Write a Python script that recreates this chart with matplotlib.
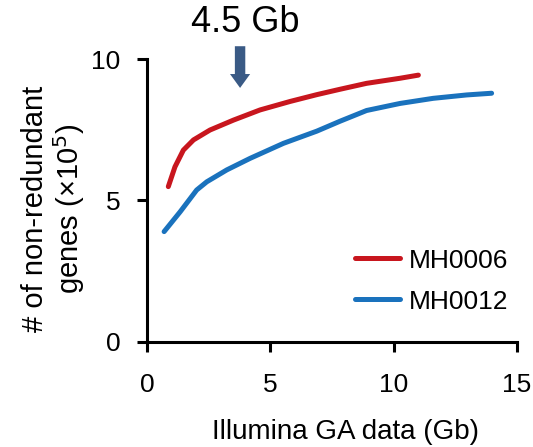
import matplotlib
matplotlib.use("Agg")
import matplotlib.pyplot as plt

# saturation curves: non-redundant genes vs sequencing amount
mh0006_x = [0.86, 1.13, 1.47, 1.88, 2.55, 3.5, 4.58, 5.8, 6.88, 7.82, 8.9, 10.26, 11.0]
mh0006_y = [5.49, 6.19, 6.78, 7.14, 7.49, 7.84, 8.2, 8.5, 8.74, 8.93, 9.14, 9.32, 9.43]
mh0012_x = [0.69, 1.34, 2.01, 2.42, 3.23, 4.18, 5.53, 6.88, 7.82, 8.9, 10.26, 11.6, 12.96, 13.97]
mh0012_y = [3.9, 4.6, 5.37, 5.66, 6.08, 6.49, 7.02, 7.45, 7.8, 8.18, 8.43, 8.61, 8.73, 8.79]
arrow_x = 3.77
label_txt = "4.5 Gb"

plt.rcParams['font.family'] = ['Liberation Sans', 'DejaVu Sans']

fig = plt.figure(figsize=(5.33, 4.47), dpi=100)
ax = fig.add_axes([0.276, 0.235, 0.694, 0.633])

ax.plot(mh0006_x, mh0006_y, color="#C8161E", lw=3.6, label="MH0006",
        solid_capstyle="round", solid_joinstyle="round")
ax.plot(mh0012_x, mh0012_y, color="#1A72BD", lw=3.6, label="MH0012",
        solid_capstyle="round", solid_joinstyle="round")

ax.set_xlim(0, 15)
ax.set_ylim(0, 10)
ax.set_xticks([0, 5, 10, 15])
ax.set_yticks([0, 5, 10])
ax.tick_params(labelsize=19, width=2.2, length=7, direction="out", colors="black")
ax.tick_params(axis="x", pad=15)
ax.tick_params(axis="y", pad=12)
for s in ["top", "right"]:
    ax.spines[s].set_visible(False)
for s in ["left", "bottom"]:
    ax.spines[s].set_linewidth(2.2)

ax.set_xlabel("Illumina GA data (Gb)", fontsize=20, labelpad=16)
ax.xaxis.label.set_x(0.535)
ax.set_ylabel("# of non-redundant\ngenes (×10$^5$)", fontsize=21, labelpad=3, linespacing=1.1)
ax.yaxis.label.set_y(0.47)

# arrow marking 4.5 Gb
ax.annotate("", xy=(arrow_x, 8.88), xytext=(arrow_x, 10.55),
            arrowprops=dict(arrowstyle="simple,head_width=1.45,head_length=1.0,tail_width=0.75",
                            color="#3A5A85", lw=0),
            annotation_clip=False)
ax.text(4.0, 11.3, label_txt, fontsize=26, ha="center", va="center", clip_on=False)

ax.legend(loc="upper left", bbox_to_anchor=(0.562, 0.33), frameon=False,
          borderpad=0, borderaxespad=0, fontsize=19, handlelength=1.7,
          handletextpad=0.35, labelspacing=0.65)

fig.savefig("out.png", dpi=100)
